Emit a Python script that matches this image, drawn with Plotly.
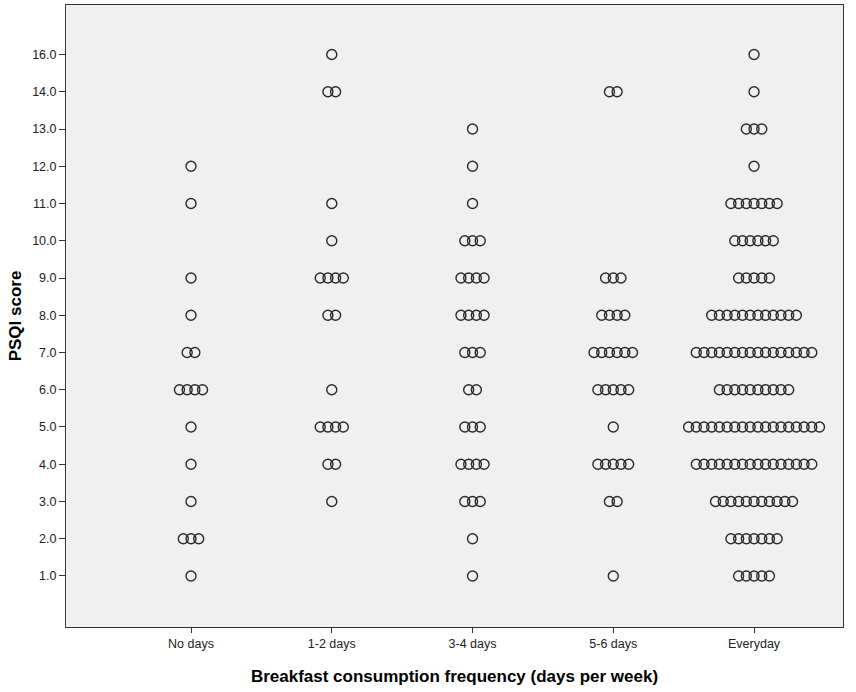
import plotly.graph_objects as go

# ---- data ----
categories = ["No days", "1-2 days", "3-4 days", "5-6 days", "Everyday"]
score_levels = [1, 2, 3, 4, 5, 6, 7, 8, 9, 10, 11, 12, 13, 14, 16]
score_labels = ["1.0", "2.0", "3.0", "4.0", "5.0", "6.0", "7.0", "8.0",
                "9.0", "10.0", "11.0", "12.0", "13.0", "14.0", "16.0"]
# number of respondents at each score level (aligned with score_levels)
counts_no_days  = [1, 3, 1, 1, 1, 4, 2, 1, 1, 0, 1, 1, 0, 0, 0]
counts_1_2_days = [0, 0, 1, 2, 4, 1, 0, 2, 4, 1, 1, 0, 0, 2, 1]
counts_3_4_days = [1, 1, 3, 4, 3, 2, 3, 4, 4, 3, 1, 1, 1, 0, 0]
counts_5_6_days = [1, 0, 2, 5, 1, 5, 6, 4, 3, 0, 0, 0, 0, 2, 0]
counts_everyday = [5, 7, 11, 16, 18, 10, 16, 12, 5, 6, 7, 1, 3, 1, 1]

all_counts = [counts_no_days, counts_1_2_days, counts_3_4_days,
              counts_5_6_days, counts_everyday]

# ---- build stacked dot positions (dots spread horizontally around category) ----
step = 0.0547  # horizontal spacing between stacked dots, in category units
xs, ys = [], []
for ci, counts in enumerate(all_counts):
    for li, n in enumerate(counts):
        for j in range(n):
            xs.append(ci + (j - (n - 1) / 2) * step)
            ys.append(li)

fig = go.Figure()
fig.add_trace(go.Scatter(
    x=xs, y=ys, mode="markers",
    marker=dict(symbol="circle-open", size=10, color="#2b2b2b",
                line=dict(width=1.4, color="#2b2b2b")),
    hoverinfo="skip", showlegend=False,
))

axis_font = dict(family="Liberation Sans, Arial, sans-serif", size=12.5, color="#222222")
title_font = dict(family="Liberation Sans, Arial, sans-serif", size=17, color="#000000")

# left edge of frame; category 0 centred at ~191px, spacing ~140.75px
frame_left = 66
x_left = -(191 - frame_left) / 140.75

fig.update_layout(
    width=856, height=692,
    margin=dict(l=frame_left, r=13, t=5, b=65),
    paper_bgcolor="white",
    plot_bgcolor="#f0f0f0",
    xaxis=dict(
        range=[x_left, 4.632],
        tickmode="array", tickvals=list(range(len(categories))), ticktext=categories,
        ticks="outside", ticklen=5, tickcolor="#333333",
        showgrid=False, zeroline=False,
        showline=True, linecolor="#333333", linewidth=1, mirror=True,
        tickfont=axis_font,
        title=dict(text="<b>Breakfast consumption frequency (days per week)</b>",
                   font=title_font, standoff=20),
    ),
    yaxis=dict(
        range=[-1.37, 15.33],
        tickmode="array", tickvals=list(range(len(score_levels))), ticktext=score_labels,
        ticks="outside", ticklen=6, tickcolor="#333333",
        showgrid=False, zeroline=False,
        showline=True, linecolor="#333333", linewidth=1, mirror=True,
        tickfont=axis_font,
        title=dict(text="<b>PSQI score</b>", font=title_font, standoff=6),
    ),
)

fig.write_html("out.html", config={"displayModeBar": False},
               post_script="document.body.style.margin='0';document.body.style.padding='0';")
